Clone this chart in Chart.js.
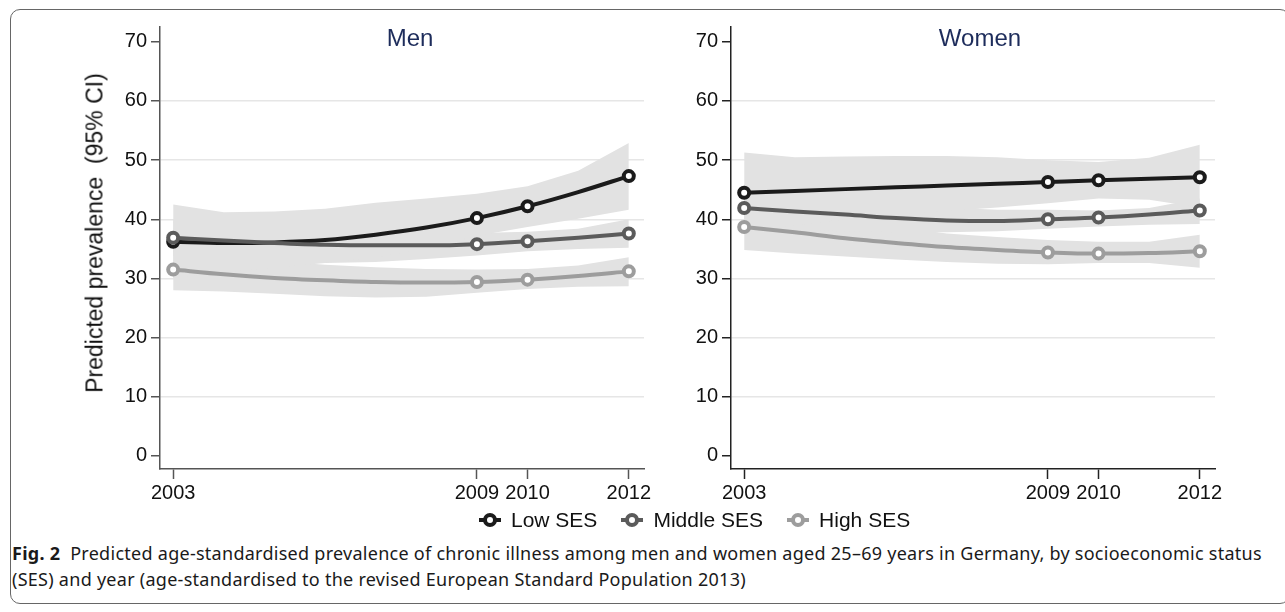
<!DOCTYPE html>
<html>
<head>
<meta charset="utf-8">
<script src="https://cdn.jsdelivr.net/npm/chart.js@4.4.1/dist/chart.umd.min.js"></script>
<style>
  body { margin: 0; background: #fff; font-family: "Liberation Sans", Arial, sans-serif; }
  #page { position: relative; width: 1285px; height: 612px; overflow: hidden; }
  #frame { position: absolute; left: 10px; top: 9px; width: 1280px; height: 595px;
    border: 1.5px solid #666; border-radius: 10px; box-sizing: border-box; }
  canvas { position: absolute; top: 0; }
  .ptitle { position: absolute; top: 38px; transform: translate(-50%, -50%);
    font-size: 24px; color: #1d2c5b; white-space: nowrap; }
  #ytitle { position: absolute; left: 95px; top: 233px; transform: translate(-50%, -50%) rotate(-90deg);
    font-size: 23px; color: #111; white-space: nowrap; }
  #legend { position: absolute; left: 479px; top: 508px; display: flex; align-items: center;
    font-size: 21px; color: #111; white-space: nowrap; }
  #legend span.item { display: flex; align-items: center; margin-right: 24px; }
  #legend svg { margin-right: 10px; }
  #caption { position: absolute; left: 12px; top: 540px; font-family: "Noto Sans", sans-serif;
    font-size: 18px; letter-spacing: 0.27px; line-height: 26px; color: #1a1a1a; white-space: nowrap; }
</style>
</head>
<body>
<div id="page">
  <div id="frame"></div>
  <canvas id="menChart" width="660" height="510" style="left:0px"></canvas>
  <canvas id="womenChart" width="660" height="510" style="left:571px"></canvas>
  <div class="ptitle" style="left:410px">Men</div>
  <div class="ptitle" style="left:980px">Women</div>
  <div id="ytitle">Predicted prevalence&nbsp; (95% CI)</div>
  <div id="legend"></div>
  <div id="caption"><b>Fig. 2</b>&nbsp; Predicted age-standardised prevalence of chronic illness among men and women aged 25–69 years in Germany, by socioeconomic status<br>(SES) and year (age-standardised to the revised European Standard Population 2013)</div>
</div>
<script>
// yearly predictions, markers only at survey years
const years = [2003, 2004, 2005, 2006, 2007, 2008, 2009, 2010, 2011, 2012];
const surveyYears = [2003, 2009, 2010, 2012];
const yTicks = [0, 10, 20, 30, 40, 50, 60, 70];

const seriesNames = ["Low SES", "Middle SES", "High SES"];
const seriesColors = ["#1b1b1b", "#5b5b5b", "#9d9d9d"];

// Men
const menLow = [36.2, 36.0, 36.1, 36.5, 37.4, 38.6, 40.2, 42.2, 44.6, 47.3];
const menMid = [36.9, 36.4, 36.0, 35.7, 35.6, 35.6, 35.8, 36.3, 36.9, 37.6];
const menHigh = [31.5, 30.7, 30.1, 29.7, 29.4, 29.3, 29.4, 29.8, 30.4, 31.2];
const menLowUp = [42.5, 41.2, 41.3, 41.8, 42.8, 43.5, 44.3, 45.6, 48.2, 52.9];
const menLowLo = [30.0, 31.0, 31.8, 32.6, 33.6, 35.0, 37.2, 38.7, 40.1, 41.6];
const menMidUp = [40.0, 39.4, 38.8, 38.3, 38.0, 37.8, 37.7, 37.9, 38.4, 40.0];
const menMidLo = [33.8, 33.2, 32.8, 32.6, 32.8, 33.3, 33.9, 34.6, 35.0, 35.2];
const menHighUp = [34.8, 33.8, 33.0, 32.3, 31.9, 31.6, 31.5, 31.6, 32.2, 33.6];
const menHighLo = [28.0, 27.8, 27.4, 27.0, 26.8, 26.9, 27.6, 28.2, 28.6, 28.7];

// Women
const womLow = [44.5, 44.8, 45.1, 45.4, 45.7, 46.0, 46.3, 46.6, 46.85, 47.1];
const womMid = [41.9, 41.3, 40.8, 40.2, 39.8, 39.7, 40.0, 40.3, 40.8, 41.5];
const womHigh = [38.7, 37.8, 36.8, 36.0, 35.3, 34.8, 34.4, 34.2, 34.3, 34.6];
const womLowUp = [51.3, 50.5, 50.6, 50.7, 50.7, 50.5, 50.0, 49.7, 50.4, 52.6];
const womLowLo = [37.8, 39.0, 40.0, 40.8, 41.4, 42.0, 42.7, 43.5, 43.3, 42.0];
const womMidUp = [45.5, 44.5, 43.5, 42.6, 42.0, 41.6, 41.6, 41.5, 41.9, 43.5];
const womMidLo = [38.4, 38.2, 38.0, 37.8, 37.8, 38.0, 38.4, 38.8, 39.1, 39.2];
const womHighUp = [42.7, 41.3, 40.0, 38.8, 37.6, 37.0, 36.5, 36.2, 36.2, 37.4];
const womHighLo = [34.8, 34.2, 33.7, 33.2, 32.8, 32.5, 32.4, 32.6, 32.6, 31.8];

const bandColor = "#e2e2e2";
const tickFont = { family: "'Liberation Sans', Arial", size: 20 };

function toPoints(values) {
  return values.map((v, i) => ({ x: years[i], y: v }));
}

function bandDatasets(upper, lower) {
  return [
    { data: toPoints(upper), borderWidth: 0, pointRadius: 0, tension: 0,
      backgroundColor: bandColor, fill: "+1", order: 10 },
    { data: toPoints(lower), borderWidth: 0, pointRadius: 0, tension: 0,
      backgroundColor: bandColor, fill: false, order: 10 },
  ];
}

function lineDataset(values, idx) {
  return {
    label: seriesNames[idx],
    data: toPoints(values),
    borderColor: seriesColors[idx],
    borderWidth: 4,
    cubicInterpolationMode: "monotone",
    fill: false,
    pointRadius: (ctx) => (surveyYears.includes(years[ctx.dataIndex]) ? 5 : 0),
    pointBorderWidth: 4,
    pointBackgroundColor: "#fff",
    pointBorderColor: seriesColors[idx],
    order: 3 - idx,
  };
}

function makePanel(canvasId, lines, bands, axisColor) {
  const datasets = [
    lineDataset(lines[0], 0),
    lineDataset(lines[1], 1),
    lineDataset(lines[2], 2),
    ...bandDatasets(bands[0], bands[1]),
    ...bandDatasets(bands[2], bands[3]),
    ...bandDatasets(bands[4], bands[5]),
  ];

  new Chart(document.getElementById(canvasId), {
    type: "line",
    data: { datasets: datasets },
    options: {
      responsive: false,
      animation: false,
      layout: { padding: { top: 27, right: 16, left: 0, bottom: 0 } },
      plugins: { legend: { display: false }, tooltip: { enabled: false } },
      scales: {
        x: {
          type: "linear",
          min: 2002.74,
          max: 2012.3,
          afterBuildTicks: (scale) => {
            scale.ticks = surveyYears.map((v) => ({ value: v }));
          },
          afterFit: (scale) => { scale.height = 41; },
          grid: { drawOnChartArea: false, tickLength: 10, tickColor: axisColor, tickWidth: 1.5 },
          border: { color: axisColor, width: 1.5 },
          ticks: {
            autoSkip: false,
            maxRotation: 0,
            padding: 2,
            color: "#111",
            font: tickFont,
            callback: (v) => String(v),
          },
        },
        y: {
          min: -2.2,
          max: 72.5,
          afterBuildTicks: (scale) => {
            scale.ticks = yTicks.map((v) => ({ value: v }));
          },
          afterFit: (scale) => { scale.width = 160; },
          grid: {
            color: (ctx) => (ctx.tick && ctx.tick.value > 0 && ctx.tick.value < 70 ? "#e6e6e6" : "rgba(0,0,0,0)"),
            lineWidth: 1.5,
            tickLength: 9,
            tickColor: axisColor,
            tickWidth: 1.5,
          },
          border: { color: axisColor, width: 1.5 },
          ticks: {
            padding: 4,
            color: "#111",
            font: tickFont,
          },
        },
      },
    },
  });
}

makePanel("menChart", [menLow, menMid, menHigh],
  [menLowUp, menLowLo, menMidUp, menMidLo, menHighUp, menHighLo], "#555");
makePanel("womenChart", [womLow, womMid, womHigh],
  [womLowUp, womLowLo, womMidUp, womMidLo, womHighUp, womHighLo], "#222");

// Legend
const legend = document.getElementById("legend");
seriesNames.forEach((name, i) => {
  const c = seriesColors[i];
  legend.innerHTML += `<span class="item"><svg width="22" height="16">
    <line x1="0" y1="8" x2="22" y2="8" stroke="${c}" stroke-width="4"/>
    <circle cx="11" cy="8" r="5" fill="#fff" stroke="${c}" stroke-width="4"/></svg>${name}</span>`;
});
</script>
</body>
</html>
